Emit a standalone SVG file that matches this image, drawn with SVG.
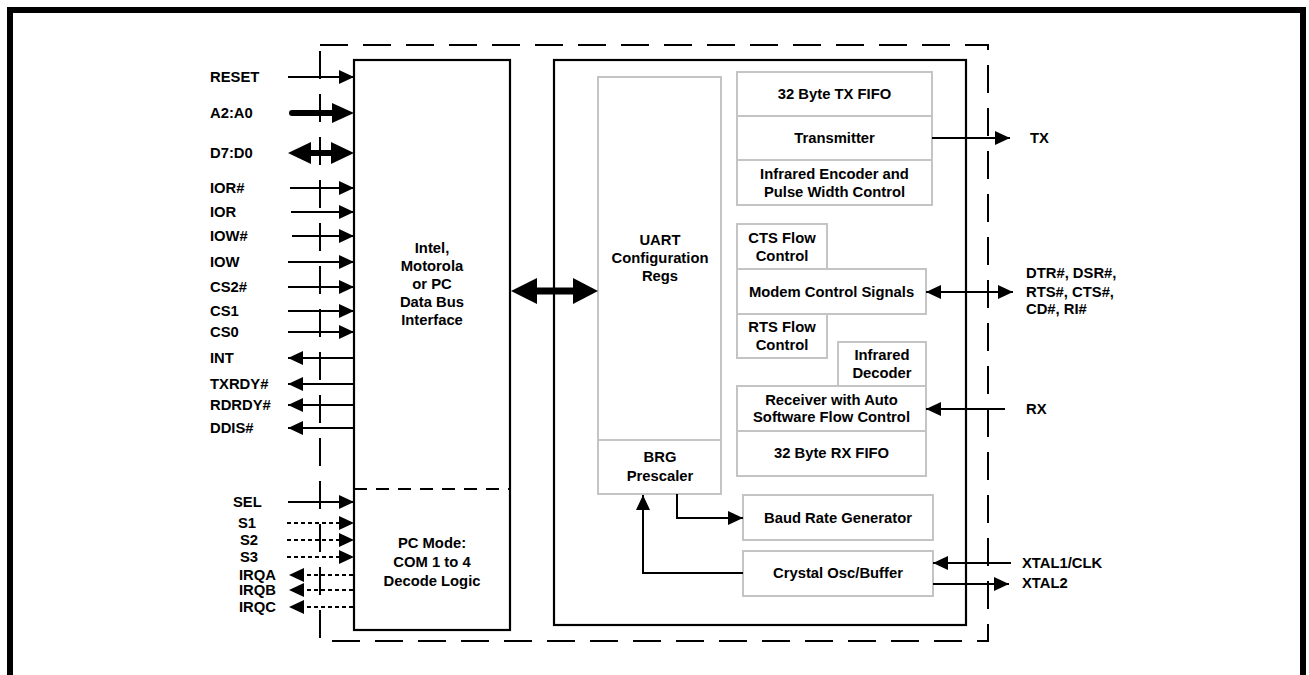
<svg xmlns="http://www.w3.org/2000/svg" width="1309" height="675" viewBox="0 0 1309 675">
<style>
text{font-family:"Liberation Sans",Arial,sans-serif;font-weight:bold;font-size:14.8px;fill:#000}
.c{text-anchor:middle}
.gb{fill:#fff;stroke:#c4c4c4;stroke-width:2}
.blk{fill:none;stroke:#000;stroke-width:2.2}
.ln{fill:none;stroke:#000;stroke-width:2}
.dl{fill:none;stroke:#000;stroke-width:2;stroke-dasharray:4 3}
.ar{marker-end:url(#ah)}
.al{marker-start:url(#ah)}
.hd{fill:#000}
</style>
<defs>
<marker id="ah" markerUnits="userSpaceOnUse" markerWidth="16" markerHeight="14" refX="15" refY="7" orient="auto-start-reverse">
<path d="M0,0 L15,7 L0,14 z" fill="#000"/>
</marker>
</defs>
<rect width="1309" height="675" fill="#fff"/>
<path d="M10,680 V10 H1303 V680" fill="none" stroke="#000" stroke-width="6"/>
<g id="boundary">
<rect x="320" y="45" width="668" height="596" fill="none" stroke="#000" stroke-width="2" stroke-dasharray="28 15"/>
</g>
<g id="bus-interface">
<rect class="blk" x="354" y="60" width="156" height="570"/>
<line x1="354" y1="489" x2="510" y2="489" stroke="#000" stroke-width="2" stroke-dasharray="13 9"/>
<text class="c" x="432" y="253">Intel,</text>
<text class="c" x="432" y="271">Motorola</text>
<text class="c" x="432" y="289">or PC</text>
<text class="c" x="432" y="307">Data Bus</text>
<text class="c" x="432" y="325">Interface</text>
<text class="c" x="432" y="548">PC Mode:</text>
<text class="c" x="432" y="567">COM 1 to 4</text>
<text class="c" x="432" y="586">Decode Logic</text>
</g>
<g id="uart-core">
<rect class="blk" x="554" y="60" width="412" height="565"/>
</g>
<g id="uart-config">
<rect class="gb" x="598" y="77" width="123" height="363"/>
<text class="c" x="660" y="245">UART</text>
<text class="c" x="660" y="263">Configuration</text>
<text class="c" x="660" y="281">Regs</text>
</g>
<g id="brg-prescaler">
<rect class="gb" x="598" y="440" width="123" height="54"/>
<text class="c" x="660" y="462">BRG</text>
<text class="c" x="660" y="481">Prescaler</text>
</g>
<g id="tx-fifo">
<rect class="gb" x="737" y="72" width="195" height="44"/>
<text class="c" x="834.5" y="99">32 Byte TX FIFO</text>
</g>
<g id="transmitter">
<rect class="gb" x="737" y="116" width="195" height="44"/>
<text class="c" x="834.5" y="143">Transmitter</text>
</g>
<g id="ir-encoder">
<rect class="gb" x="737" y="160" width="195" height="45"/>
<text class="c" x="834.5" y="179">Infrared Encoder and</text>
<text class="c" x="834.5" y="197">Pulse Width Control</text>
</g>
<g id="cts-flow">
<rect class="gb" x="737" y="224" width="90" height="45"/>
<text class="c" x="782" y="243">CTS Flow</text>
<text class="c" x="782" y="261">Control</text>
</g>
<g id="modem-control">
<rect class="gb" x="737" y="269" width="189" height="45"/>
<text class="c" x="831.5" y="297">Modem Control Signals</text>
</g>
<g id="rts-flow">
<rect class="gb" x="737" y="314" width="90" height="44"/>
<text class="c" x="782" y="332">RTS Flow</text>
<text class="c" x="782" y="350">Control</text>
</g>
<g id="ir-decoder">
<rect class="gb" x="838" y="342" width="88" height="44"/>
<text class="c" x="882" y="360">Infrared</text>
<text class="c" x="882" y="378">Decoder</text>
</g>
<g id="receiver">
<rect class="gb" x="737" y="386" width="189" height="45"/>
<text class="c" x="831.5" y="405">Receiver with Auto</text>
<text class="c" x="831.5" y="422">Software Flow Control</text>
</g>
<g id="rx-fifo">
<rect class="gb" x="737" y="431" width="189" height="45"/>
<text class="c" x="831.5" y="458">32 Byte RX FIFO</text>
</g>
<g id="baud-rate-gen">
<rect class="gb" x="743" y="495" width="190" height="45"/>
<text class="c" x="838" y="523">Baud Rate Generator</text>
</g>
<g id="crystal-osc">
<rect class="gb" x="743" y="551" width="190" height="45"/>
<text class="c" x="838" y="578">Crystal Osc/Buffer</text>
</g>
<g id="connectors">
<!-- left inputs -->
<line class="ln ar" x1="288" y1="77" x2="354" y2="77"/>
<line x1="292" y1="113" x2="334" y2="113" stroke="#000" stroke-width="6" stroke-linecap="round"/>
<path class="hd" d="M332,103 L354,113 L332,123 z"/>
<line x1="308" y1="153" x2="334" y2="153" stroke="#000" stroke-width="6"/>
<path class="hd" d="M311,142 L288,153 L311,164 z"/>
<path class="hd" d="M331,142 L354,153 L331,164 z"/>
<line class="ln ar" x1="290" y1="188" x2="354" y2="188"/>
<line class="ln ar" x1="291" y1="212" x2="354" y2="212"/>
<line class="ln ar" x1="292" y1="236" x2="354" y2="236"/>
<line class="ln ar" x1="288" y1="262" x2="354" y2="262"/>
<line class="ln ar" x1="288" y1="287" x2="354" y2="287"/>
<line class="ln ar" x1="288" y1="311" x2="354" y2="311"/>
<line class="ln ar" x1="288" y1="332" x2="354" y2="332"/>
<line class="ln al" x1="288" y1="358" x2="354" y2="358"/>
<line class="ln al" x1="288" y1="384" x2="354" y2="384"/>
<line class="ln al" x1="288" y1="405" x2="354" y2="405"/>
<line class="ln al" x1="288" y1="428" x2="354" y2="428"/>
<line class="ln ar" x1="288" y1="502" x2="354" y2="502"/>
<line class="dl" x1="287" y1="523" x2="342" y2="523"/>
<path class="hd" d="M339,516 L354,523 L339,530 z"/>
<line class="dl" x1="287" y1="540" x2="342" y2="540"/>
<path class="hd" d="M339,533 L354,540 L339,547 z"/>
<line class="dl" x1="287" y1="557" x2="342" y2="557"/>
<path class="hd" d="M339,550 L354,557 L339,564 z"/>
<line class="dl" x1="300" y1="575" x2="354" y2="575"/>
<path class="hd" d="M304,568 L289,575 L304,582 z"/>
<line class="dl" x1="300" y1="590" x2="354" y2="590"/>
<path class="hd" d="M304,583 L289,590 L304,597 z"/>
<line class="dl" x1="300" y1="607" x2="354" y2="607"/>
<path class="hd" d="M304,600 L289,607 L304,614 z"/>
<!-- bus interface to UART config -->
<line x1="534" y1="291" x2="576" y2="291" stroke="#000" stroke-width="7"/>
<path class="hd" d="M537,278 L511,291 L537,304 z"/>
<path class="hd" d="M573,278 L598,291 L573,304 z"/>
<!-- right side -->
<line class="ln ar" x1="932" y1="138" x2="1010" y2="138"/>
<line class="ln ar al" x1="926" y1="292" x2="1013" y2="292"/>
<line class="ln ar" x1="1005" y1="409" x2="926" y2="409"/>
<line class="ln ar" x1="1011" y1="563" x2="933" y2="563"/>
<line class="ln ar" x1="933" y1="584" x2="1009" y2="584"/>
<!-- internal -->
<polyline class="ln ar" points="677,494 677,518 743,518"/>
<polyline class="ln ar" points="743,573 643,573 643,495"/>
</g>
<g id="labels">
<text x="210" y="82">RESET</text>
<text x="210" y="118">A2:A0</text>
<text x="210" y="158">D7:D0</text>
<text x="210" y="193">IOR#</text>
<text x="210" y="217">IOR</text>
<text x="210" y="241">IOW#</text>
<text x="210" y="267">IOW</text>
<text x="210" y="292">CS2#</text>
<text x="210" y="316">CS1</text>
<text x="210" y="337">CS0</text>
<text x="210" y="363">INT</text>
<text x="210" y="389">TXRDY#</text>
<text x="210" y="410">RDRDY#</text>
<text x="210" y="433">DDIS#</text>
<text x="233" y="507">SEL</text>
<text x="238" y="528">S1</text>
<text x="240" y="545">S2</text>
<text x="240" y="562">S3</text>
<text x="239" y="580">IRQA</text>
<text x="239" y="595">IRQB</text>
<text x="239" y="612">IRQC</text>
<text x="1030" y="143">TX</text>
<text x="1026" y="278">DTR#, DSR#,</text>
<text x="1026" y="297">RTS#, CTS#,</text>
<text x="1026" y="314">CD#, RI#</text>
<text x="1026" y="414">RX</text>
<text x="1022" y="568">XTAL1/CLK</text>
<text x="1022" y="588">XTAL2</text>
</g>
</svg>
